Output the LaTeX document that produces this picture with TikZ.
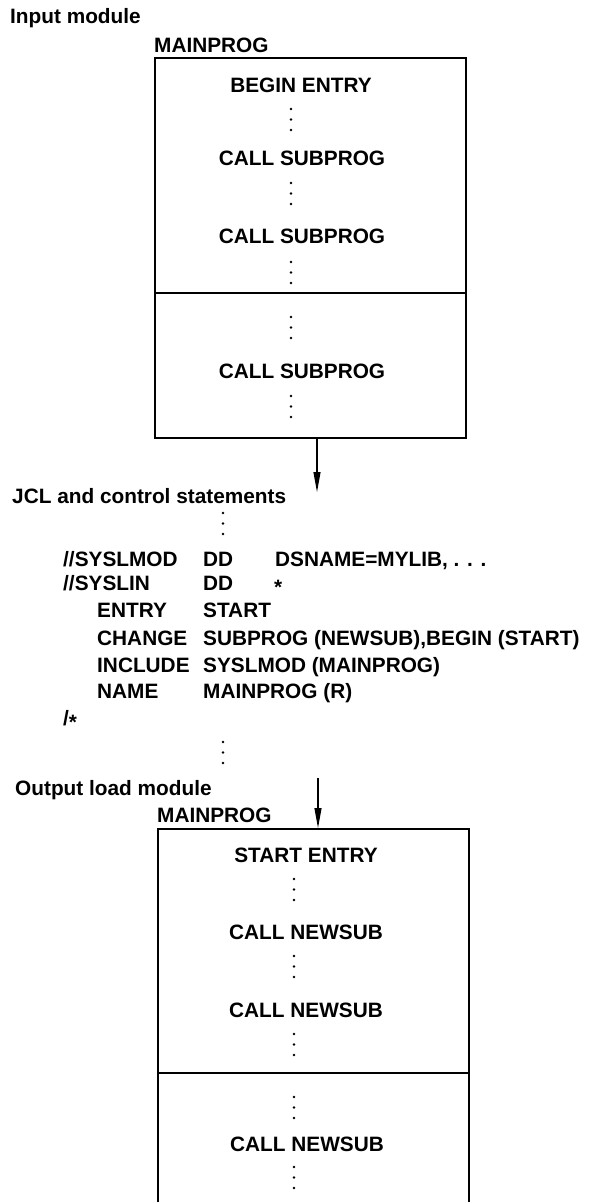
\documentclass[tikz,border=0pt]{standalone}
\usepackage{fontspec}
\setmainfont{Liberation Sans}
\usepackage{tikz}
\usetikzlibrary{arrows.meta,positioning,calc}
\tikzset{
  txt/.style={inner sep=0pt, anchor=base west, font=\fontsize{20.8}{25}\selectfont\bfseries},
  ctxt/.style={txt, anchor=base},
  modbox/.style={
    rectangle, draw, line width=1.6pt,
    inner sep=0pt, anchor=north west
  },
  divider/.style={line width=1.4pt},
  flow/.style={-{Triangle[length=20pt,width=7pt]}, line width=1.1pt},
  vdots/.pic={\foreach \k in {0,1,2} \fill (0,\k*10.5) circle (1.45pt);}
}
\newcommand{\lowstar}{\raisebox{-4.5pt}{*}}

\begin{document}
\begin{tikzpicture}[x=1pt,y=-1pt]
  \useasboundingbox (0,0) rectangle (598,1202);
  \clip (0,0) rectangle (598,1202);

  % --- input module
  \node[txt] (inlbl)  at (10,23)  {Input module};
  \node[txt] (inname) at (154,52) {MAINPROG};
  \node[modbox, minimum width=311pt, minimum height=380pt] (inbox) at (154,57) {};
  \coordinate (insplit) at (0,293);
  \draw[divider] (inbox.west |- insplit) -- (inbox.east |- insplit);

  \node[ctxt] (inbegin) at (301,92)  {BEGIN ENTRY};
  \pic at (291,109) {vdots};
  \node[ctxt] (incalla) at (302,165) {CALL SUBPROG};
  \pic at (291,183) {vdots};
  \node[ctxt] (incallb) at (302,243) {CALL SUBPROG};
  \pic at (291,262) {vdots};
  \pic at (291,317) {vdots};
  \node[ctxt] (incallc) at (302,378) {CALL SUBPROG};
  \pic at (291,396) {vdots};

  % --- JCL and control statements
  \node[txt] (jcllbl) at (12,503) {JCL and control statements};
  \pic at (223,513) {vdots};
  \node[txt] (jmod)    at (63,566)  {//SYSLMOD};
  \node[txt] (jmoddd)  at (203,566) {DD};
  \node[txt] (jmodds)  at (275,566) {DSNAME=MYLIB, . . .};
  \node[txt] (jlin)    at (63,590)  {//SYSLIN};
  \node[txt] (jlindd)  at (203,590) {DD};
  \node[txt] (jlinst)  at (274,590) {\lowstar};
  \node[txt] (jentry)  at (97,617)  {ENTRY};
  \node[txt] (jentryv) at (203,617) {START};
  \node[txt] (jchg)    at (97,645)  {CHANGE};
  \node[txt] (jchgv)   at (203,645) {SUBPROG (NEWSUB),BEGIN (START)};
  \node[txt] (jinc)    at (97,672)  {INCLUDE};
  \node[txt] (jincv)   at (203,672) {SYSLMOD (MAINPROG)};
  \node[txt] (jname)   at (97,698)  {NAME};
  \node[txt] (jnamev)  at (203,698) {MAINPROG (R)};
  \node[txt] (jend)    at (63,725)  {/\lowstar};
  \pic at (223,742) {vdots};

  % --- output load module
  \node[txt] (outlbl)  at (15,795)  {Output load module};
  \node[txt] (outname) at (157,822) {MAINPROG};
  \node[modbox, minimum width=311pt, minimum height=420pt] (outbox) at (157,828) {};
  \coordinate (outsplit) at (0,1073);
  \draw[divider] (outbox.west |- outsplit) -- (outbox.east |- outsplit);

  \node[ctxt] (outstart) at (306,862)  {START ENTRY};
  \pic at (294,879) {vdots};
  \node[ctxt] (outcalla) at (306,939)  {CALL NEWSUB};
  \pic at (294,956) {vdots};
  \node[ctxt] (outcallb) at (306,1017) {CALL NEWSUB};
  \pic at (294,1034) {vdots};
  \pic at (294,1097) {vdots};
  \node[ctxt] (outcallc) at (307,1151) {CALL NEWSUB};
  \pic at (294,1167) {vdots};

  % --- arrows
  \coordinate (jcltip)  at (317,492);
  \coordinate (outtail) at (318,778);
  \draw[flow] (jcltip |- inbox.south) -- (jcltip);
  \draw[flow] (outtail) -- (outtail |- outbox.north);
\end{tikzpicture}
\end{document}
